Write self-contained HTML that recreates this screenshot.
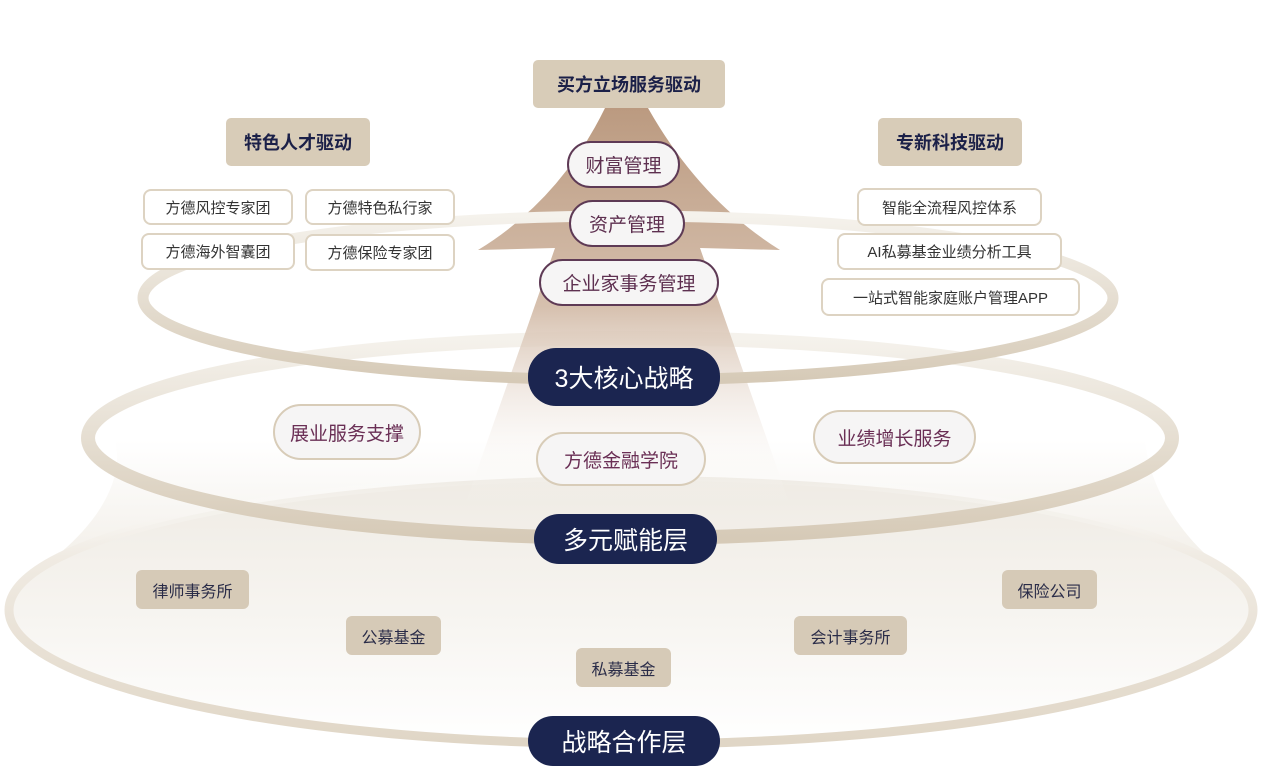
<!DOCTYPE html>
<html><head><meta charset="utf-8"><style>
html,body{margin:0;padding:0;background:#fff}
body{width:1262px;height:784px;position:relative;overflow:hidden;font-family:"Liberation Sans","Noto Sans CJK SC",sans-serif}
.b{position:absolute;display:flex;align-items:center;justify-content:center;box-sizing:border-box;white-space:nowrap}
.hd{background:#d8ccb8;color:#1b2048;font-weight:bold;font-size:18px;border-radius:5px}
.sm{background:#fff;border:2px solid #ddd3c2;border-radius:8px;color:#333;font-size:15px}
.pl{background:#f6f5f5;border:2px solid #5e3a55;border-radius:24px;color:#5e3050;font-size:19px}
.pl2{background:#f6f5f5;border:2px solid #d8ccb8;border-radius:28px;color:#6a2f55;font-size:19px}
.nv{background:#1b2550;color:#fff;font-size:25px;border-radius:28px}
.tn{background:#d6cab7;color:#2a2c48;font-size:16px;border-radius:6px}
</style></head><body>
<svg width="1262" height="784" style="position:absolute;left:0;top:0">
<defs>
<linearGradient id="fill" x1="0" y1="0" x2="0" y2="1"><stop offset="0" stop-color="#efebe4"/><stop offset="0.55" stop-color="#f7f5f1"/><stop offset="1" stop-color="#fff"/></linearGradient>
<linearGradient id="cone" x1="0" y1="0" x2="0" y2="1"><stop offset="0" stop-color="#fff"/><stop offset="1" stop-color="#f1ede6"/></linearGradient>
<linearGradient id="arr" x1="0" y1="0" x2="0" y2="1"><stop offset="0" stop-color="#bb9a80"/><stop offset="0.5" stop-color="#d6c0ae"/><stop offset="1" stop-color="#fff" stop-opacity="0"/></linearGradient>
<linearGradient id="rg" x1="0" y1="0" x2="0" y2="1"><stop offset="0" stop-color="#f5f2ec"/><stop offset="1" stop-color="#d6cab7"/></linearGradient>
<linearGradient id="rg3" x1="0" y1="0" x2="0" y2="1"><stop offset="0" stop-color="#fff" stop-opacity="0"/><stop offset="0.3" stop-color="#f0ebe3"/><stop offset="1" stop-color="#e0d6c6"/></linearGradient>
</defs>
<path d="M115,440 C130,500 60,560 20,580 L1242,580 C1200,560 1150,500 1145,440 Z" fill="url(#cone)"/>
<ellipse cx="631" cy="610" rx="622" ry="134" fill="url(#fill)" stroke="url(#rg3)" stroke-width="9"/>
<ellipse cx="630" cy="438" rx="542" ry="100" fill="none" stroke="url(#rg)" stroke-width="14"/>
<path d="M605,108 L648,108 Q700,200 780,250 L700,248 L790,505 L465,505 L555,248 L478,250 Q560,200 605,108 Z" fill="url(#arr)"/>
<ellipse cx="628" cy="298" rx="485" ry="82" fill="none" stroke="url(#rg)" stroke-width="11"/>
</svg>
<div class="b hd" style="left:533px;top:60px;width:192px;height:48px">买方立场服务驱动</div>
<div class="b hd" style="left:226px;top:118px;width:144px;height:48px">特色人才驱动</div>
<div class="b hd" style="left:878px;top:118px;width:144px;height:48px">专新科技驱动</div>
<div class="b sm" style="left:143px;top:189px;width:150px;height:36px">方德风控专家团</div>
<div class="b sm" style="left:305px;top:189px;width:150px;height:36px">方德特色私行家</div>
<div class="b sm" style="left:141px;top:233px;width:154px;height:37px">方德海外智囊团</div>
<div class="b sm" style="left:305px;top:234px;width:150px;height:37px">方德保险专家团</div>
<div class="b sm" style="left:857px;top:188px;width:185px;height:38px">智能全流程风控体系</div>
<div class="b sm" style="left:837px;top:233px;width:225px;height:37px">AI私募基金业绩分析工具</div>
<div class="b sm" style="left:821px;top:278px;width:259px;height:38px">一站式智能家庭账户管理APP</div>
<div class="b pl" style="left:567px;top:141px;width:113px;height:47px">财富管理</div>
<div class="b pl" style="left:569px;top:200px;width:116px;height:47px">资产管理</div>
<div class="b pl" style="left:539px;top:259px;width:180px;height:47px">企业家事务管理</div>
<div class="b nv" style="left:528px;top:348px;width:192px;height:58px">3大核心战略</div>
<div class="b pl2" style="left:273px;top:404px;width:148px;height:56px">展业服务支撑</div>
<div class="b pl2" style="left:536px;top:432px;width:170px;height:54px">方德金融学院</div>
<div class="b pl2" style="left:813px;top:410px;width:163px;height:54px">业绩增长服务</div>
<div class="b nv" style="left:534px;top:514px;width:183px;height:50px">多元赋能层</div>
<div class="b nv" style="left:528px;top:716px;width:192px;height:50px">战略合作层</div>
<div class="b tn" style="left:136px;top:570px;width:113px;height:39px">律师事务所</div>
<div class="b tn" style="left:346px;top:616px;width:95px;height:39px">公募基金</div>
<div class="b tn" style="left:576px;top:648px;width:95px;height:39px">私募基金</div>
<div class="b tn" style="left:794px;top:616px;width:113px;height:39px">会计事务所</div>
<div class="b tn" style="left:1002px;top:570px;width:95px;height:39px">保险公司</div>
</body></html>
